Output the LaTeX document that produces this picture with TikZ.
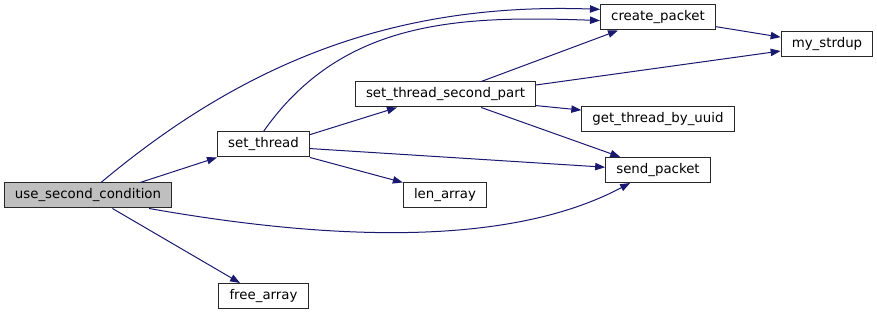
\documentclass[tikz,border=0pt]{standalone}
\usepackage{fontspec}
\setmainfont{DejaVu Sans}
\usepackage{tikz}
\usetikzlibrary{arrows.meta}
\usepackage{xcolor}
\definecolor{edgecol}{RGB}{25, 25, 112}
\definecolor{rootfill}{RGB}{191, 191, 191}
\definecolor{boxline}{RGB}{40, 40, 40}
\tikzset{
    fn/.style={draw=boxline, line width=0.75pt, fill=white, rectangle, inner xsep=8pt, inner ysep=0pt,
        minimum height=18.75pt, font=\fontsize{10}{12}\selectfont},
    root/.style={fn, fill=rootfill},
    call/.style={draw=edgecol, line width=0.75pt, -{Triangle[length=7.5pt, width=5.5pt]}},
}

\begin{document}
\begin{tikzpicture}[x=0.75pt, y=-0.75pt]
    \useasboundingbox (0,0) rectangle (877,316);
    % functions
    \node (usc) [root] at (88,195.5) {use\_second\_condition};
    \node (st) [fn] at (263.5,144.5) {set\_thread};
    \node (stsp) [fn] at (445.5,94.5) {set\_thread\_second\_part};
    \node (la) [fn] at (445,195.5) {len\_array};
    \node (fa) [fn] at (263.5,296) {free\_array};
    \node (cp) [fn] at (658,17.5) {create\_packet};
    \node (gtbu) [fn] at (658,119.5) {get\_thread\_by\_uuid};
    \node (sp) [fn] at (658,170) {send\_packet};
    \node (ms) [fn] at (827,44.5) {my\_strdup};
    % calls
    \draw[call] (usc.45) to[out=40, in=178, looseness=0.95] (cp.172);
    \draw[call] (usc.14) -- (st.south west);
    \draw[call] (usc.-12) to[out=-10, in=208, looseness=0.8] (sp.-155);
    \draw[call] (usc.-28) -- (fa.151);
    \draw[call] (st.north) to[out=55, in=178] (cp.183);
    \draw[call] (st.12) -- (stsp.-165);
    \draw[call] (st.-5) -- (sp.177);
    \draw[call] (st.south east) -- (la.north west);
    \draw[call] (stsp.20) -- (cp.-162);
    \draw[call] (stsp.6) -- (ms.188);
    \draw[call] (stsp.-7) -- (gtbu.173);
    \draw[call] (stsp.-20) -- (sp.161);
    \draw[call] (cp.-9) -- (ms.171);
\end{tikzpicture}
\end{document}
